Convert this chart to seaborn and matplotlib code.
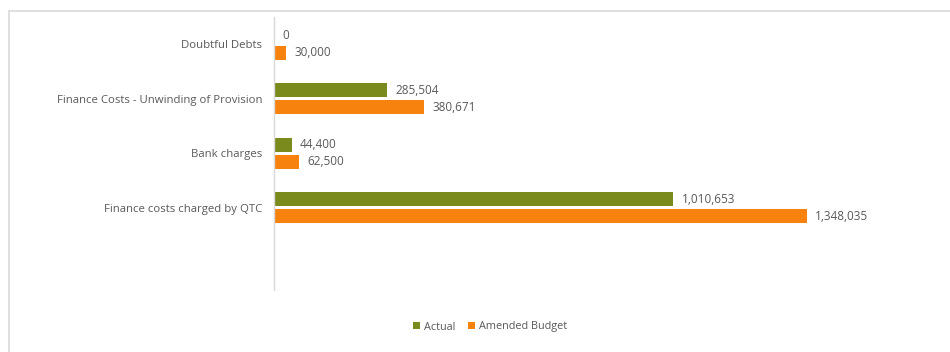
import matplotlib
matplotlib.use("Agg")
import matplotlib.pyplot as plt
from matplotlib.lines import Line2D
import pandas as pd
import seaborn as sns

# Finance cost lines, actual vs amended budget
categories = [
    "Doubtful Debts",
    "Finance Costs - Unwinding of Provision",
    "Bank charges",
    "Finance costs charged by QTC",
]
actual = [0, 285504, 44400, 1010653]
amended_budget = [30000, 380671, 62500, 1348035]
series_names = ["Actual", "Amended Budget"]

GREEN = "#7A8A1C"
ORANGE = "#F7820E"
TEXT = "#595959"
FRAME = "#D9D9D9"

df = pd.DataFrame({
    "category": categories * 2,
    "value": actual + amended_budget,
    "series": [series_names[0]] * len(categories) + [series_names[1]] * len(categories),
})

sns.set_theme(style="white")
plt.rcParams["font.family"] = ["Open Sans", "DejaVu Sans"]

W, H = 950, 352
fig = plt.figure(figsize=(W / 100, H / 100), dpi=100)
ax = fig.add_axes([274 / W, (H - 289.5) / H, 656 / W, 272.5 / H])

sns.barplot(
    data=df, y="category", x="value", hue="series", order=categories,
    hue_order=series_names, palette=[GREEN, ORANGE], orient="h",
    width=0.62, gap=0.17, saturation=1, ax=ax, edgecolor="none", linewidth=0,
)

# one empty slot below the last category
ax.set_ylim(4.5, -0.5)
ax.set_xlim(0, 1660000)

for container in ax.containers:
    vals = [bar.get_width() for bar in container]
    ax.bar_label(container, labels=[f"{v:,.0f}" for v in vals], padding=6,
                 fontsize=8.5, color=TEXT)

ax.set_xlabel("")
ax.set_ylabel("")
ax.set_xticks([])
ax.tick_params(axis="y", length=0, pad=8.5, labelsize=8.2, labelcolor=TEXT)
for side in ["top", "right", "bottom"]:
    ax.spines[side].set_visible(False)
ax.spines["left"].set_color(FRAME)
ax.spines["left"].set_linewidth(1.0)

handles, labels = ax.get_legend_handles_labels()
ax.legend(
    handles, labels, loc="center", bbox_to_anchor=(0.516, 25 / H),
    bbox_transform=fig.transFigure, ncol=2, frameon=False, fontsize=7.8,
    labelcolor=TEXT, handlelength=0.6, handleheight=0.6,
    handletextpad=0.4, columnspacing=1.2,
)

# chart frame (top and left edges)
fig.add_artist(Line2D([9 / W, 1], [1 - 11 / H, 1 - 11 / H], color=FRAME, lw=1.2,
                      transform=fig.transFigure))
fig.add_artist(Line2D([9 / W, 9 / W], [0, 1 - 11 / H], color=FRAME, lw=1.2,
                      transform=fig.transFigure))

fig.savefig("out.png", dpi=100, facecolor="white")
